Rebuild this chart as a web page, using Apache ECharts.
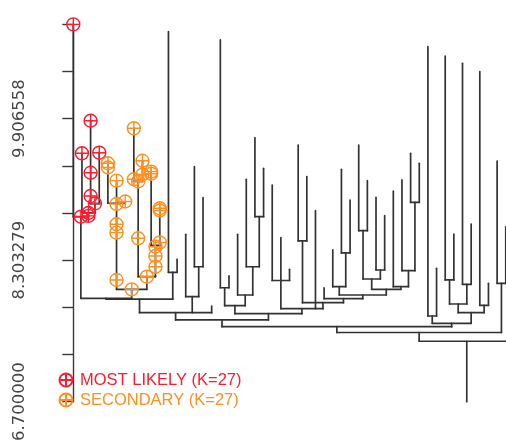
<!DOCTYPE html>
<html>
<head>
<meta charset="utf-8">
<script src="https://cdn.jsdelivr.net/npm/echarts@6/dist/echarts.min.js"></script>
<style>
  html, body { margin: 0; padding: 0; background: #ffffff; }
  #chart { width: 506px; height: 442px; }
</style>
</head>
<body>
<div id="chart"></div>
<script>
// Leaf heights, in left-to-right leaf order (leaf i sits at x = i).
const leafHeights = [
  10.975, 9.514, 9.883, 9.521, 9.401, 9.204, 8.968, 9.797, 9.430, 9.306,
  8.891, 10.892, 8.313, 8.596, 9.362, 9.011, 7.784, 10.798, 8.127, 8.596,
  9.220, 9.691, 9.344, 9.155, 8.558, 8.200, 9.608, 9.251, 8.864, 7.991,
  8.419, 9.333, 8.985, 9.608, 9.204, 9.016, 8.807, 9.087, 9.212, 9.514,
  9.401, 10.722, 8.211, 10.616, 8.600, 10.534, 8.713, 10.439, 8.041, 9.427,
  8.683, 9.300
];

// Merge steps: numbers are leaves, 'mK' refers to merge K.
const mergeChildren = [
  [2, 3], [1, 'm0'], [0, 'm1'], [4, 5, 6], [7, 8], [9, 10], ['m4', 'm5'],
  ['m3', 'm6'], ['m2', 'm7'], [11, 12], ['m8', 'm9'], [14, 15], [13, 'm11'],
  ['m10', 'm12', 16], [17, 18], [21, 22], [20, 'm15'], [19, 'm16'],
  ['m14', 'm17'], [23, 24, 25], [26, 27], [31, 32], [30, 'm21'], [33, 34],
  [35, 36], ['m23', 'm24'], [39, 40], [38, 'm26'], [37, 'm27'],
  ['m25', 'm28'], ['m22', 'm29'], [29, 'm30'], ['m20', 'm31'],
  ['m19', 28, 'm32'], ['m18', 'm33'], ['m13', 'm34'], [41, 42], [43, 44],
  [45, 46], ['m37', 'm38'], [47, 48], ['m39', 'm40'], ['m36', 'm41'],
  ['m35', 'm42'], [49, 50], ['m43', 'm44'], ['m45', 51]
];
const mergeHeights = [
  8.945, 8.838, 8.796, 8.948, 9.195, 8.470, 8.116,
  7.973, 7.871, 8.166, 7.861, 8.229, 7.890,
  7.708, 7.991, 8.796, 8.229, 7.909,
  7.788, 8.073, 8.521, 8.385, 8.003, 8.637,
  8.192, 8.090, 8.959, 8.184, 8.003,
  7.973, 7.909, 7.867, 7.822,
  7.754, 7.697, 7.626, 7.671, 8.079,
  8.030, 7.807, 7.792, 7.708, 7.588,
  7.550, 8.041, 7.484, 7.385
];
const rootBase = 6.7;

// Highlighted points: [position along the leaf axis, height].
const mostLikely = [
  [0, 10.975], [1, 9.514], [2, 9.883], [3, 9.521], [2, 9.294], [2, 9.030],
  [2.5, 8.945], [1.75, 8.838], [0.875, 8.796], [1.75, 8.805]
];
const secondary = [
  [4, 9.401], [4, 9.353], [5, 9.204], [5, 8.940], [6, 8.968], [5, 8.710],
  [5, 8.615], [5, 8.079], [7, 9.797], [8, 9.430], [7, 9.220], [8, 9.274],
  [7.5, 9.195], [7.5, 8.551], [9, 9.306], [9, 9.283], [10, 8.891],
  [10, 8.866], [10, 8.504], [9.5, 8.456], [9.5, 8.351], [9.5, 8.229],
  [8.5, 8.116], [6.75, 7.973]
];

// Axis ticks and the labels printed on them.
const yMin = 6.7;
const yStep = 0.534426;
const yTickCount = 8;
const tickLabels = ['6.700000', '', '', '8.303279', '', '', '9.906558', '', ''];

const seriesNames = ['MOST LIKELY (K=27)', 'SECONDARY (K=27)'];
const seriesColors = ['#ff1a2e', '#ff8f1f'];

// Work out node positions and the rectangular connector segments.
const mergeX = [];
const segments = [];
function childPos(c) {
  if (typeof c === 'number') return [c, leafHeights[c]];
  const k = Number(c.slice(1));
  return [mergeX[k], mergeHeights[k]];
}
mergeChildren.forEach((kids, k) => {
  const h = mergeHeights[k];
  const pos = kids.map(childPos);
  const first = pos[0][0];
  const last = pos[pos.length - 1][0];
  mergeX[k] = (first + last) / 2;
  pos.forEach(p => segments.push([p[0], p[1], p[0], h]));
  segments.push([first, h, last, h]);
});
const rootK = mergeChildren.length - 1;
segments.push([mergeX[rootK], mergeHeights[rootK], mergeX[rootK], rootBase]);

const markerPath = 'path://M10,0 A10,10 0 1,1 10,20 A10,10 0 1,1 10,0 Z M0,10 L20,10 M10,0 L10,20';

const chart = echarts.init(document.getElementById('chart'), null, { renderer: 'canvas' });
chart.setOption({
  animation: false,
  backgroundColor: '#ffffff',
  grid: { left: 53, top: 24.3, bottom: 40.3, right: -43, containLabel: false, outerBoundsMode: 'none' },
  xAxis: { type: 'value', min: -2.347, max: 55, show: false },
  yAxis: {
    type: 'value',
    min: yMin,
    max: yMin + yStep * yTickCount,
    interval: yStep,
    splitLine: { show: false },
    axisLine: { show: true, lineStyle: { color: '#3a3a3a', width: 1.4 } },
    axisTick: { show: true, length: 11, lineStyle: { color: '#3a3a3a', width: 1.4 } },
    axisLabel: {
      show: true,
      interval: 0,
      rotate: 90,
      margin: 25,
      showMinLabel: true,
      showMaxLabel: true,
      fontFamily: 'DejaVu Sans',
      fontSize: 16.5,
      color: '#444444',
      formatter: (v, i) => tickLabels[i] || ''
    }
  },
  legend: {
    orient: 'vertical',
    left: 58.5,
    top: 370,
    padding: 0,
    itemWidth: 18,
    itemHeight: 13,
    itemGap: 0,
    icon: markerPath,
    selectedMode: false,
    textStyle: { fontFamily: "'Liberation Sans', Arial, sans-serif", fontSize: 16.5, lineHeight: 20 },
    data: seriesNames.map((n, i) => ({ name: n, textStyle: { color: seriesColors[i] } }))
  },
  series: [
    {
      type: 'custom',
      name: 'tree',
      silent: true,
      clip: false,
      data: segments,
      encode: { x: [0, 2], y: [1, 3] },
      renderItem: (params, api) => {
        const a = api.coord([api.value(0), api.value(1)]);
        const b = api.coord([api.value(2), api.value(3)]);
        return {
          type: 'line',
          shape: { x1: a[0], y1: a[1], x2: b[0], y2: b[1] },
          style: { stroke: '#333333', lineWidth: 1.7, lineCap: 'round' }
        };
      }
    },
    ...[mostLikely, secondary].map((pts, i) => ({
      type: 'scatter',
      name: seriesNames[i],
      data: pts,
      clip: false,
      symbol: markerPath,
      symbolSize: 13,
      z: 3,
      itemStyle: { color: 'rgba(255,255,255,0)', borderColor: seriesColors[i], borderWidth: 1.4, opacity: 1 }
    }))
  ]
});
</script>
</body>
</html>
